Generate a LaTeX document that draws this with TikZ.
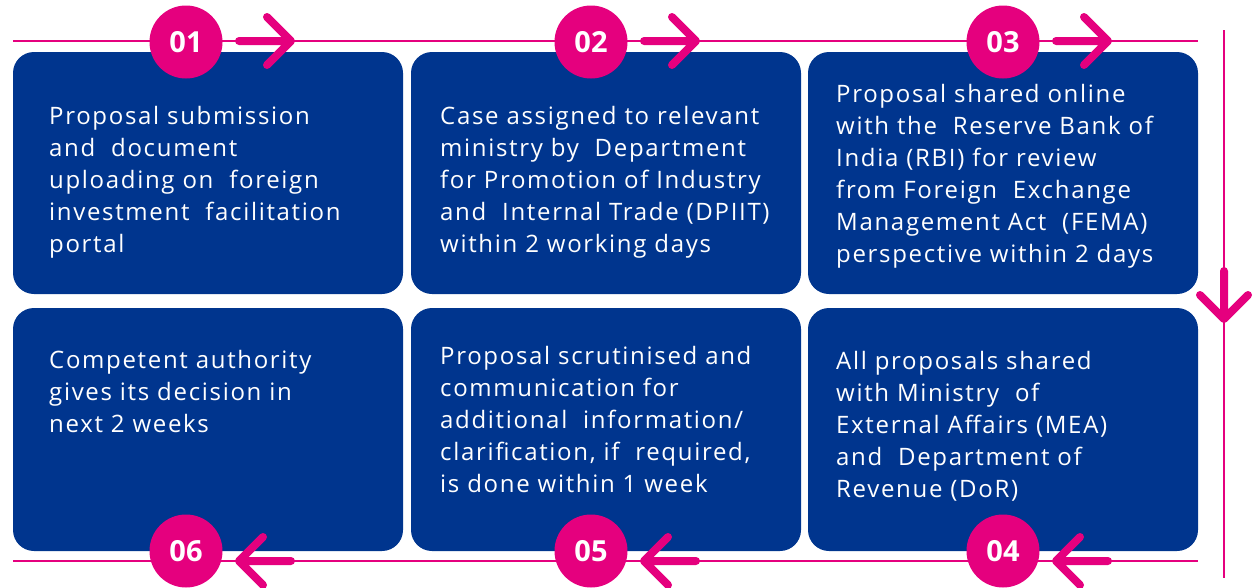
\documentclass[tikz,border=0pt]{standalone}
\usepackage{fontspec}
\setmainfont{Open Sans}[LetterSpace=7]
\newfontfamily\stepnumfont{Open Sans}

\definecolor{stepblue}{HTML}{00358E}
\definecolor{steppink}{HTML}{E5007E}

\tikzset{
	stepbox/.style={fill=stepblue, rounded corners=21pt, minimum width=390pt, inner sep=0pt},
	% multi-line text: base is the last line
	steptext/.style={text=white, align=left, anchor=base west, inner sep=0pt, font=\fontsize{24}{32}\selectfont},
	stepnum/.style={circle, fill=steppink, text=white, minimum size=73pt, inner sep=0pt, font=\stepnumfont\bfseries\fontsize{29}{29}\selectfont},
	guide/.style={draw=steppink, line width=2pt},
	chevron/.style={draw=steppink, line width=8pt, line cap=round, line join=round},
}

\begin{document}
\begin{tikzpicture}[x=1pt, y=-1pt]
		\useasboundingbox (0,0) rectangle (1256,587);
		% guide lines round the boxes
		\coordinate (topl) at (13,41);
		\coordinate (topr) at (1198,41);
		\coordinate (botl) at (13,561);
		\coordinate (botr) at (1198,561);
		\coordinate (sidet) at (1224,30);
		\coordinate (sideb) at (1224,578);
		\draw [guide] (topl) -- (topr);
		\draw [guide] (botl) -- (botr);
		\draw [guide] (sidet) -- (sideb);
		% step boxes
		\node [stepbox, minimum height=242pt] (box1) at (208,173) {};
		\node [stepbox, minimum height=242pt] (box2) at (606,173) {};
		\node [stepbox, minimum height=242pt] (box3) at (1003,173) {};
		\node [stepbox, minimum height=243pt] (box6) at (208,429.5) {};
		\node [stepbox, minimum height=243pt] (box5) at (606,429.5) {};
		\node [stepbox, minimum height=243pt] (box4) at (1003,429.5) {};
		% texts
		\node [steptext] (text1) at (49,252) {Proposal submission\\and~ document\\uploading on~ foreign\\investment~ facilitation\\portal};
		\node [steptext] (text2) at (440,252) {Case assigned to relevant\\ministry by~ Department\\for Promotion of Industry\\and~ Internal Trade (DPIIT)\\within 2 working days};
		\node [steptext] (text3) at (836,262) {Proposal shared online\\with the~ Reserve Bank of\\India (RBI) for review\\from Foreign~ Exchange\\Management Act~ (FEMA)\\perspective within 2 days};
		\node [steptext] (text4) at (836,497) {All proposals shared\\with Ministry~ of\\External Affairs (MEA)\\and~ Department of\\Revenue (DoR)};
		\node [steptext] (text5) at (440,492) {Proposal scrutinised and\\communication for\\additional~ information/\\clarification, if~ required,\\is done within 1 week};
		\node [steptext] (text6) at (49,432) {Competent authority\\gives its decision in\\next 2 weeks};
		% numbers
		\node [stepnum] (n1) at (186,42) {01};
		\node [stepnum] (n2) at (591,42) {02};
		\node [stepnum] (n3) at (1003,42) {03};
		\node [stepnum] (n4) at (1003,551) {04};
		\node [stepnum] (n5) at (591,551) {05};
		\node [stepnum] (n6) at (186,551) {06};
		% arrows
		\coordinate (a1) at (239,41);  \coordinate (h1) at (291,41);
		\coordinate (a2) at (644,41);  \coordinate (h2) at (696,41);
		\coordinate (a3) at (1056,41); \coordinate (h3) at (1108,41);
		\coordinate (a4) at (1108,561); \coordinate (h4) at (1056,561);
		\coordinate (a5) at (696,561);  \coordinate (h5) at (644,561);
		\coordinate (a6) at (291,561);  \coordinate (h6) at (239,561);
		\coordinate (ad) at (1224,271); \coordinate (hd) at (1224,319);
		\draw [chevron] (a1) -- (h1) ++(-24,-24) -- (h1) -- ++(-24,24);
		\draw [chevron] (a2) -- (h2) ++(-24,-24) -- (h2) -- ++(-24,24);
		\draw [chevron] (a3) -- (h3) ++(-24,-24) -- (h3) -- ++(-24,24);
		\draw [chevron] (a4) -- (h4) ++(24,-24) -- (h4) -- ++(24,24);
		\draw [chevron] (a5) -- (h5) ++(24,-24) -- (h5) -- ++(24,24);
		\draw [chevron] (a6) -- (h6) ++(24,-24) -- (h6) -- ++(24,24);
		\draw [chevron] (ad) -- (hd) ++(-24,-24) -- (hd) -- ++(24,-24);
\end{tikzpicture}
\end{document}
